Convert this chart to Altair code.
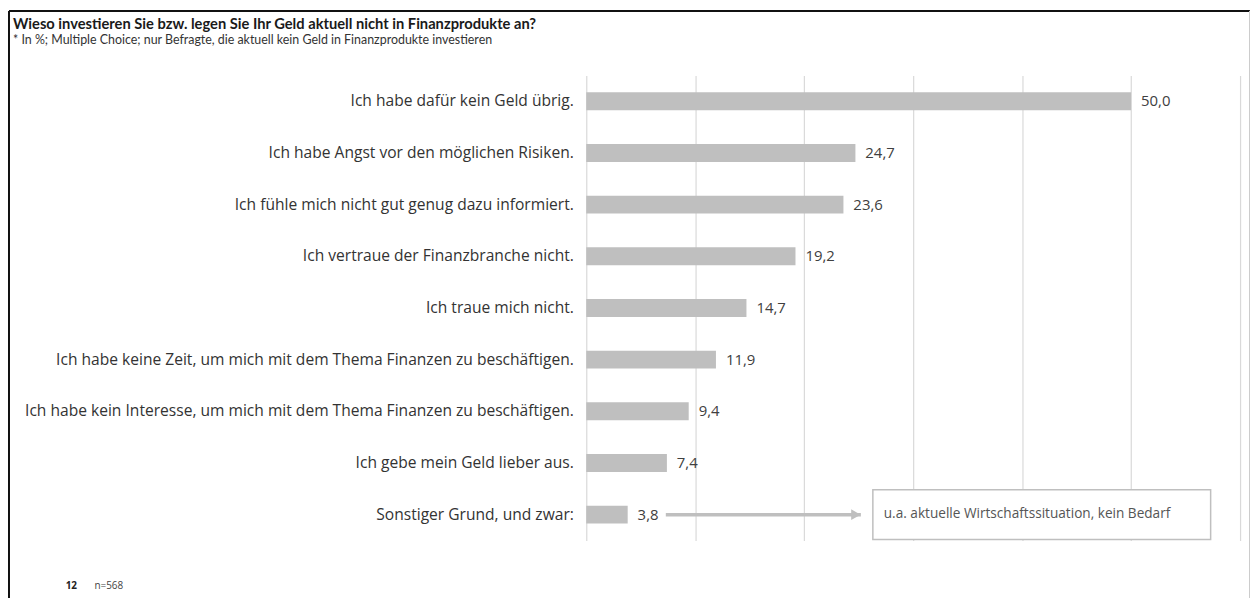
import altair as alt
import pandas as pd

categories = [
    "Ich habe dafür kein Geld übrig.",
    "Ich habe Angst vor den möglichen Risiken.",
    "Ich fühle mich nicht gut genug dazu informiert.",
    "Ich vertraue der Finanzbranche nicht.",
    "Ich traue mich nicht.",
    "Ich habe keine Zeit, um mich mit dem Thema Finanzen zu beschäftigen.",
    "Ich habe kein Interesse, um mich mit dem Thema Finanzen zu beschäftigen.",
    "Ich gebe mein Geld lieber aus.",
    "Sonstiger Grund, und zwar:",
]
values = [50.0, 24.7, 23.6, 19.2, 14.7, 11.9, 9.4, 7.4, 3.8]
value_labels = [f"{v:.1f}".replace(".", ",") for v in values]

# annotation for the last row (in data units of the x scale)
note_category = ["Sonstiger Grund, und zwar:"]
note_text = ["u.a. aktuelle Wirtschaftssituation, kein Bedarf"]
arrow_start = [7.3]
arrow_tip = [25.2]
box_start = [26.3]
box_end = [57.3]
note_text_x = [27.3]

FONT = "Open Sans"
TFONT = "Lato"
df = pd.DataFrame({"cat": categories, "val": values, "lab": value_labels})
note = pd.DataFrame({
    "cat": note_category, "txt": note_text, "a0": arrow_start, "a1": arrow_tip,
    "b0": box_start, "b1": box_end, "tx": note_text_x,
})
one = pd.DataFrame({"k": [0]})

W, H = 658, 468
PL = 582
PT = 66

y_enc = alt.Y(
    "cat:N", sort=categories, title=None,
    scale=alt.Scale(paddingInner=0.654, paddingOuter=0.327),
    axis=alt.Axis(domain=False, ticks=False, labelFontSize=15.7, labelColor="#333333",
                  labelFont=FONT, labelPadding=13, labelLimit=600, grid=False),
)
x_enc = alt.X(
    "val:Q", title=None,
    scale=alt.Scale(domain=[0, 60], nice=False),
    axis=alt.Axis(values=[0, 10, 20, 30, 40, 50, 60], labels=False, ticks=False,
                  domain=False, grid=True, gridColor="#d9d9d9", gridWidth=1.2),
)

bars = alt.Chart(df).mark_bar(color="#bfbfbf").encode(x=x_enc, y=y_enc)
labels = alt.Chart(df).mark_text(align="left", baseline="middle", dx=10, fontSize=15,
                                 font=FONT, color="#404040").encode(
    x="val:Q", y=alt.Y("cat:N", sort=categories), text="lab:N")

arrow = alt.Chart(note).mark_rule(color="#bfbfbf", strokeWidth=3.5).encode(
    x="a0:Q", x2="a1:Q", y=alt.Y("cat:N", sort=categories))
head = alt.Chart(note).mark_point(shape="triangle-right", filled=True, size=120,
                                  color="#bfbfbf", opacity=1, xOffset=-5).encode(
    x="a1:Q", y=alt.Y("cat:N", sort=categories))
box = alt.Chart(note).mark_bar(size=50, fill="white", stroke="#bfbfbf", strokeWidth=1.5).encode(
    x="b0:Q", x2="b1:Q", y=alt.Y("cat:N", sort=categories))
box_txt = alt.Chart(note).mark_text(align="left", baseline="middle", fontSize=13.7,
                                    font=FONT, color="#555555", dy=-1).encode(
    x="tx:Q", y=alt.Y("cat:N", sort=categories), text="txt:N")

footer_num = alt.Chart(one).mark_text(text="12", align="left", baseline="middle", fontSize=10,
                                      fontWeight="bold", font=FONT, color="#222222").encode(
    x=alt.value(66 - PL - 8), y=alt.value(588 - PT - 8))
footer_n = alt.Chart(one).mark_text(text="n=568", align="left", baseline="middle", fontSize=10,
                                    font=FONT, color="#444444").encode(
    x=alt.value(95 - PL - 8), y=alt.value(588 - PT - 8))

frame_top = alt.Chart(one).mark_rule(color="#111111", strokeWidth=2).encode(
    x=alt.value(-PL + 1), x2=alt.value(W + 20), y=alt.value(-PT + 1))
frame_left = alt.Chart(one).mark_rule(color="#111111", strokeWidth=2).encode(
    x=alt.value(-PL + 1), y=alt.value(-PT + 1), y2=alt.value(540))
frame_right = alt.Chart(one).mark_rule(color="#cccccc", strokeWidth=1).encode(
    x=alt.value(1249.5 - PL), y=alt.value(-PT + 1), y2=alt.value(540))

chart = alt.layer(
    bars, labels, arrow, head, box, box_txt, footer_num, footer_n,
    frame_top, frame_left, frame_right,
).properties(
    width=W, height=H,
    background="white",
    title=alt.Title(
        "Wieso investieren Sie bzw. legen Sie Ihr Geld aktuell nicht in Finanzprodukte an?",
        subtitle="* In %; Multiple Choice; nur Befragte, die aktuell kein Geld in Finanzprodukte investieren",
        anchor="start", frame="group", dx=-(PL - 5), offset=-37,
        font=TFONT, fontSize=14.8, fontWeight="bold", color="#1a1a1a",
        subtitleFont=TFONT, subtitleFontSize=12.5, subtitleColor="#333333", subtitlePadding=2.5,
    ),
    autosize=alt.AutoSizeParams(type="none"),
    padding={"left": PL, "top": PT, "right": 1250 - PL - W, "bottom": 590 - PT - H},
).configure_view(stroke=None)

chart.save("out.html", embed_options={"renderer": "svg", "actions": False})
